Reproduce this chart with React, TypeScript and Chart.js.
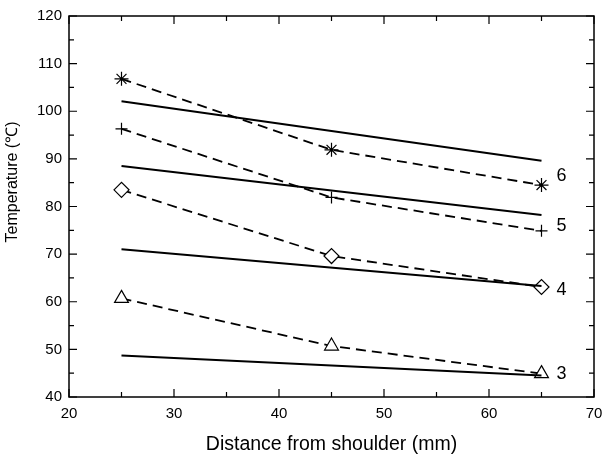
import React, { useEffect, useRef } from "react";
import { Chart, registerables } from "chart.js";

Chart.register(...registerables);

const xPositions = [25, 45, 65];
const fitX = [25, 65];

const measured6 = [106.8, 91.9, 84.5];
const measured5 = [96.3, 81.9, 74.9];
const measured4 = [83.5, 69.6, 63.1];
const measured3 = [60.7, 50.7, 44.9];

const fit6 = [102.1, 89.6];
const fit5 = [88.5, 78.2];
const fit4 = [71.0, 63.3];
const fit3 = [48.7, 44.5];

const curveNames = ["6", "5", "4", "3"];
const curveLabelY = [86.4, 75.9, 62.5, 44.8];
const curveLabelX = 65;

const xTicks = [20, 30, 40, 50, 60, 70];
const yTicks = [40, 50, 60, 70, 80, 90, 100, 110, 120];

const xTitle = "Distance from shoulder (mm)";
const yTitle = "Temperature (\u2103)";

const FONT = "'Liberation Sans', Arial, sans-serif";

const toPts = (xs: number[], ys: number[]) => ys.map((y, i) => ({ x: xs[i], y }));

const framePlugin = {
  id: "frame",
  afterDraw(chart: any) {
    const { ctx, chartArea, scales } = chart;
    const xs = scales.x;
    const ys = scales.y;
    const { left, right, top, bottom } = chartArea;
    ctx.save();
    ctx.strokeStyle = "#000";
    ctx.lineWidth = 1.5;
    ctx.strokeRect(left, top, right - left, bottom - top);
    ctx.lineWidth = 1.2;
    const xMin = xTicks[0], xMax = xTicks[xTicks.length - 1];
    for (let v = xMin; v <= xMax; v += 5) {
      const p = xs.getPixelForValue(v);
      const len = v % 10 === 0 ? 8 : 5;
      ctx.beginPath();
      ctx.moveTo(p, bottom);
      ctx.lineTo(p, bottom - len);
      ctx.moveTo(p, top);
      ctx.lineTo(p, top + len);
      ctx.stroke();
    }
    const yMin = yTicks[0], yMax = yTicks[yTicks.length - 1];
    for (let v = yMin; v <= yMax; v += 5) {
      const p = ys.getPixelForValue(v);
      const len = v % 10 === 0 ? 8 : 5;
      ctx.beginPath();
      ctx.moveTo(left, p);
      ctx.lineTo(left + len, p);
      ctx.moveTo(right, p);
      ctx.lineTo(right - len, p);
      ctx.stroke();
    }
    // curve labels
    ctx.fillStyle = "#000";
    ctx.font = `18px ${FONT}`;
    ctx.textAlign = "left";
    ctx.textBaseline = "middle";
    curveNames.forEach((n, i) => {
      ctx.fillText(n, xs.getPixelForValue(curveLabelX) + 15, ys.getPixelForValue(curveLabelY[i]));
    });
    // axis titles
    ctx.font = `19.5px ${FONT}`;
    ctx.textAlign = "center";
    ctx.textBaseline = "alphabetic";
    ctx.fillText(xTitle, (left + right) / 2, 450);
    ctx.save();
    ctx.translate(17, 182);
    ctx.rotate(-Math.PI / 2);
    ctx.font = `16px ${FONT}`;
    ctx.textBaseline = "alphabetic";
    ctx.fillText(yTitle, 0, 0);
    ctx.restore();
    ctx.restore();
  },
};

export default function App() {
  const ref = useRef<HTMLCanvasElement>(null);
  useEffect(() => {
    if (!ref.current) return;
    const measuredStyle = (data: number[], style: string, radius: number) => ({
      data: toPts(xPositions, data),
      borderColor: "#000",
      borderWidth: 1.8,
      borderDash: [10, 6],
      pointStyle: style,
      pointRadius: radius,
      pointBorderColor: "#000",
      pointBackgroundColor: "#fff",
      pointBorderWidth: 1.2,
      fill: false,
      tension: 0,
    });
    const fitStyle = (data: number[]) => ({
      data: toPts(fitX, data),
      borderColor: "#000",
      borderWidth: 2,
      pointRadius: 0,
      fill: false,
      tension: 0,
    });
    const chart = new Chart(ref.current, {
      type: "line",
      data: {
        datasets: [
          fitStyle(fit6),
          fitStyle(fit5),
          fitStyle(fit4),
          fitStyle(fit3),
          measuredStyle(measured6, "star", 7),
          measuredStyle(measured5, "cross", 6),
          measuredStyle(measured4, "rectRot", 7.5),
          measuredStyle(measured3, "triangle", 8),
        ] as any,
      },
      options: {
        responsive: false,
        animation: false,
        layout: { padding: { top: 16, right: 19, left: 0, bottom: 0 } },
        plugins: { legend: { display: false }, tooltip: { enabled: false } },
        scales: {
          x: {
            type: "linear",
            min: xTicks[0],
            max: xTicks[xTicks.length - 1],
            grid: { display: false, drawTicks: false },
            border: { display: false },
            ticks: {
              stepSize: 10,
              padding: 8,
              color: "#000",
              font: { family: FONT, size: 15 },
              maxRotation: 0,
            },
            afterFit: (s: any) => {
              s.height = 60;
            },
          },
          y: {
            type: "linear",
            min: yTicks[0],
            max: yTicks[yTicks.length - 1],
            grid: { display: false, drawTicks: false },
            border: { display: false },
            ticks: {
              stepSize: 10,
              padding: 7,
              color: "#000",
              font: { family: FONT, size: 15 },
            },
            afterFit: (s: any) => {
              s.width = 69;
            },
          },
        },
      },
      plugins: [framePlugin],
    });
    return () => chart.destroy();
  }, []);
  return (
    <div style={{ position: "fixed", left: 0, top: 0, width: 613, height: 457, background: "#fff" }}>
      <canvas ref={ref} width={613} height={457} />
    </div>
  );
}
